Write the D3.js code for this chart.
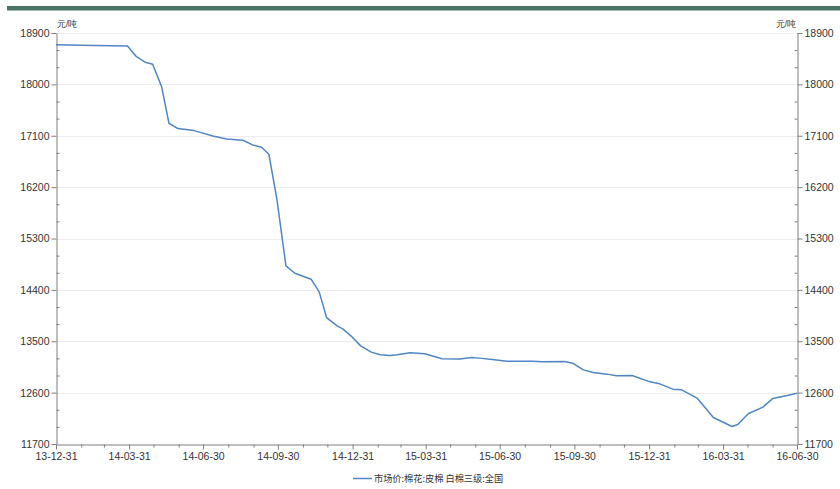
<!DOCTYPE html>
<html><head><meta charset="utf-8">
<script src="https://cdn.jsdelivr.net/npm/d3@7/dist/d3.min.js"></script>
<style>
body{margin:0;background:#fff;}
svg text{font-family:"Liberation Sans","DejaVu Sans",Arial,sans-serif;fill:#333;}
</style></head><body>
<svg id="c" width="840" height="489"></svg>
<script>
const dates = ["2013-12-31","2014-01-30","2014-03-29","2014-04-09","2014-04-20","2014-04-29","2014-05-10","2014-05-19","2014-05-30","2014-06-19","2014-07-12","2014-07-29","2014-08-18","2014-08-30","2014-09-10","2014-09-19","2014-09-29","2014-10-10","2014-10-21","2014-11-10","2014-11-20","2014-11-29","2014-12-12","2014-12-19","2014-12-30","2015-01-10","2015-01-23","2015-02-03","2015-02-15","2015-02-24","2015-03-12","2015-03-30","2015-04-20","2015-05-12","2015-05-27","2015-06-08","2015-06-21","2015-07-09","2015-08-10","2015-08-21","2015-09-18","2015-09-28","2015-10-11","2015-10-23","2015-11-09","2015-11-21","2015-12-10","2016-01-01","2016-01-13","2016-01-29","2016-02-09","2016-02-28","2016-03-19","2016-04-11","2016-04-18","2016-05-01","2016-05-19","2016-05-31","2016-06-18","2016-06-30"];
const prices = [18695,18685,18672,18485,18387,18352,17960,17319,17225,17190,17096,17044,17021,16939,16899,16776,15976,14820,14692,14587,14360,13915,13770,13717,13582,13419,13309,13262,13250,13262,13297,13280,13192,13187,13215,13200,13180,13151,13151,13140,13145,13116,12999,12952,12924,12894,12900,12789,12754,12661,12649,12504,12164,12006,12041,12229,12346,12496,12548,12590];
const yTicks = [11700,12600,13500,14400,15300,16200,17100,18000,18900];
const xTickLabels = ["13-12-31","14-03-31","14-06-30","14-09-30","14-12-31","15-03-31","15-06-30","15-09-30","15-12-31","16-03-31","16-06-30"];
const unitLabel = "元/吨";
const seriesName = "市场价:棉花:皮棉 白棉三级:全国";

const svg = d3.select("#c");
const L = 56, R = 797, T = 33, B = 444;
const parse = d3.timeParse("%Y-%m-%d");
const fmtIn = d3.timeParse("%y-%m-%d");
const data = dates.map((d,i)=>({d:parse(d), v:prices[i]}));

const x = d3.scaleTime().domain([parse("2013-12-31"), parse("2016-06-30")]).range([L,R]);
const y = d3.scaleLinear().domain([11700,18900]).range([B,T]);

// top bar
svg.append("rect").attr("x",7).attr("y",6).attr("width",833).attr("height",4.5).attr("fill","#4a7566");

// grid
svg.append("g").selectAll("line").data(yTicks.slice(1)).join("line")
  .attr("x1",L).attr("x2",R).attr("y1",d=>Math.round(y(d))+0.5).attr("y2",d=>Math.round(y(d))+0.5)
  .attr("stroke","#ededed").attr("stroke-width",1);

const minorY = d3.range(11700,18901,300).filter(v=>!yTicks.includes(v));
const axisColor = "#7f7f7f";
function styleAxis(g){
  g.select(".domain").attr("stroke",axisColor);
  g.selectAll(".tick line").attr("stroke",axisColor);
  g.selectAll("text").attr("font-size","10.5px").attr("fill","#333");
}
// left axis
svg.append("g").attr("transform",`translate(${L+0.5},0)`)
  .call(d3.axisLeft(y).tickValues(yTicks).tickFormat(d3.format("d")).tickSize(5).tickSizeOuter(0).tickPadding(2))
  .call(styleAxis);
svg.append("g").attr("transform",`translate(${L+0.5},0)`)
  .call(d3.axisRight(y).tickValues(minorY).tickSize(3).tickFormat(""))
  .call(g=>{g.select(".domain").remove(); g.selectAll(".tick line").attr("stroke",axisColor);});
// right axis
svg.append("g").attr("transform",`translate(${R+0.5},0)`)
  .call(d3.axisRight(y).tickValues(yTicks).tickFormat(d3.format("d")).tickSize(5).tickSizeOuter(0).tickPadding(2))
  .call(styleAxis);
svg.append("g").attr("transform",`translate(${R+0.5},0)`)
  .call(d3.axisLeft(y).tickValues(minorY).tickSize(3).tickFormat(""))
  .call(g=>{g.select(".domain").remove(); g.selectAll(".tick line").attr("stroke",axisColor);});

// x axis
const xMajor = xTickLabels.map(s=>fmtIn(s));
const xMinor = d3.timeMonth.range(parse("2014-01-01"), parse("2016-07-01")).map(d=>d3.timeDay.offset(d3.timeMonth.offset(d,1),-1))
  .filter(d=>!xMajor.some(m=>+m===+d));
svg.append("g").attr("transform",`translate(0,${B+0.5})`)
  .call(d3.axisBottom(x).tickValues(xMajor).tickFormat(d3.timeFormat("%y-%m-%d")).tickSize(5).tickSizeOuter(0).tickPadding(3))
  .call(styleAxis);
svg.append("g").attr("transform",`translate(0,${B+0.5})`)
  .call(d3.axisBottom(x).tickValues(xMinor).tickSize(3).tickFormat(""))
  .call(g=>{g.select(".domain").remove(); g.selectAll(".tick line").attr("stroke",axisColor);});

// unit labels
svg.append("text").attr("x",L+1).attr("y",T-6).attr("font-size","8.5px").text(unitLabel);
svg.append("text").attr("x",R-1).attr("y",T-6).attr("font-size","8.5px").attr("text-anchor","end").text(unitLabel);

// line
svg.append("path").datum(data)
  .attr("d",d3.line().x(d=>x(d.d)).y(d=>y(d.v)))
  .attr("fill","none").attr("stroke","#5086c4").attr("stroke-width",1.5).attr("stroke-linejoin","round");

// legend
svg.append("line").attr("x1",353).attr("x2",372).attr("y1",478.5).attr("y2",478.5).attr("stroke","#5086c4").attr("stroke-width",1.5);
svg.append("text").attr("x",374).attr("y",482).attr("font-size","9.2px")
  .style("font-family","'Noto Sans CJK SC','Liberation Sans',sans-serif").text(seriesName);
</script>
</body></html>
